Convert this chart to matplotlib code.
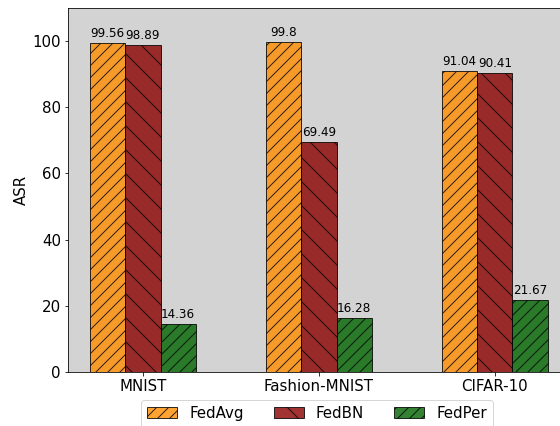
import numpy as np
import matplotlib
matplotlib.use('Agg')
import matplotlib.pyplot as plt

# Données ASR par jeu de données et méthode
datasets = ['MNIST', 'Fashion-MNIST', 'CIFAR-10']
methodes = ['FedAvg', 'FedBN', 'FedPer']
fedavg = [99.56, 99.8, 91.04]
fedbn = [98.89, 69.49, 90.41]
fedper = [14.36, 16.28, 21.67]

couleurs = ['darkorange', 'darkred', 'darkgreen']
hachures = ['//', '\\', '//']

fig = plt.figure(figsize=(560/72, 426/72), dpi=72)
ax = fig.add_axes([68/560, 1 - 372/426, 492/560, 364/426])
ax.set_facecolor('lightgrey')

x = np.arange(len(datasets))
largeur = 0.2

for i, (vals, nom) in enumerate(zip([fedavg, fedbn, fedper], methodes)):
    barres = ax.bar(x + (i - 1) * largeur, vals, largeur, label=nom,
                    color=couleurs[i], alpha=0.8, edgecolor='black',
                    hatch=hachures[i], linewidth=1)
    ax.bar_label(barres, labels=[f'{v:g}' for v in vals], fontsize=12, padding=3)

ax.set_xticks(x)
ax.set_xticklabels(datasets, fontsize=15)
ax.tick_params(axis='y', labelsize=15)
ax.set_ylabel('ASR', fontsize=15)
ax.set_ylim(0, 110)
ax.set_xlim(-0.426, 2.37)

ax.legend(loc='upper center', bbox_to_anchor=(0.506, -0.055), ncol=3,
          fontsize=15, handlelength=2, columnspacing=2)

plt.savefig('out.png', dpi=72)
